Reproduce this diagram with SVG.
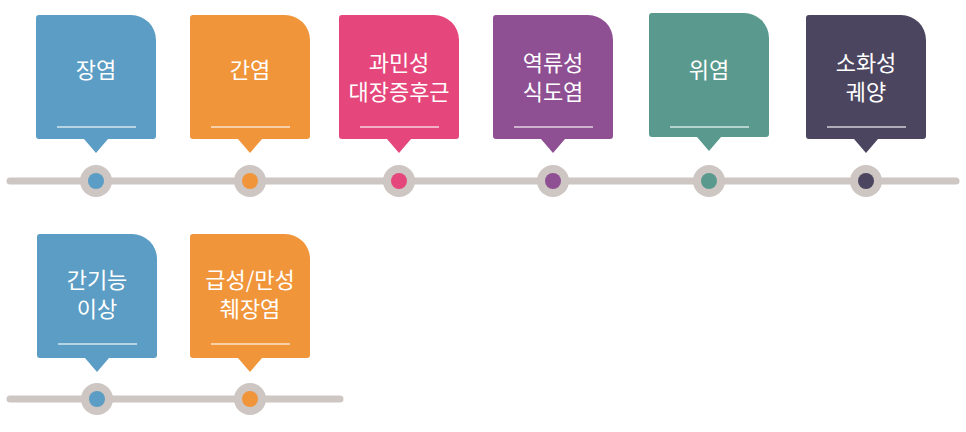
<svg xmlns="http://www.w3.org/2000/svg" width="966" height="432" viewBox="0 0 966 432">
<defs>
<style>
.t{font-family:"Noto Sans CJK KR","Noto Sans",sans-serif;font-size:22px;fill:#fff;text-anchor:middle}
.ul{stroke:#fff;stroke-opacity:.75;stroke-width:1.5}
.rail{stroke:#cdc6c2;stroke-width:7;stroke-linecap:round}
.ring{fill:#cdc6c2}
</style>
<path id="b" d="M-57,0 H35 A25,25 0 0 1 60,25 V121 A3,3 0 0 1 57,124 H12 L0,138 L-12,124 H-57 A3,3 0 0 1 -60,121 V3 A3,3 0 0 1 -57,0 Z"/>
</defs>
<g id="connectors">
<line class="rail" x1="10" y1="181" x2="956" y2="181"/>
<line class="rail" x1="10" y1="399" x2="340" y2="399"/>
</g>
<g id="n1" transform="translate(96,15)"><use href="#b" fill="#5b9dc4"/><text class="t" x="0" y="63">장염</text><line class="ul" x1="-39" y1="112" x2="40" y2="112"/><circle class="ring" cx="0" cy="166" r="16"/><circle cx="0" cy="166" r="8" fill="#5b9dc4"/></g>
<g id="n2" transform="translate(250,15)"><use href="#b" fill="#f0953a"/><text class="t" x="0" y="63">간염</text><line class="ul" x1="-39" y1="112" x2="40" y2="112"/><circle class="ring" cx="0" cy="166" r="16"/><circle cx="0" cy="166" r="8" fill="#f0953a"/></g>
<g id="n3" transform="translate(399,15)"><use href="#b" fill="#e5477c"/><text class="t" x="0" y="56">과민성</text><text class="t" x="0" y="85">대장증후근</text><line class="ul" x1="-39" y1="112" x2="40" y2="112"/><circle class="ring" cx="0" cy="166" r="16"/><circle cx="0" cy="166" r="8" fill="#e5477c"/></g>
<g id="n4" transform="translate(553,15)"><use href="#b" fill="#8e4f93"/><text class="t" x="0" y="56">역류성</text><text class="t" x="0" y="85">식도염</text><line class="ul" x1="-39" y1="112" x2="40" y2="112"/><circle class="ring" cx="0" cy="166" r="16"/><circle cx="0" cy="166" r="8" fill="#8e4f93"/></g>
<g id="n5" transform="translate(709,13)"><use href="#b" fill="#5a9a8e"/><text class="t" x="0" y="65">위염</text><line class="ul" x1="-39" y1="114" x2="40" y2="114"/><circle class="ring" cx="0" cy="168" r="16"/><circle cx="0" cy="168" r="8" fill="#5a9a8e"/></g>
<g id="n6" transform="translate(866,15)"><use href="#b" fill="#4b4560"/><text class="t" x="0" y="56">소화성</text><text class="t" x="0" y="85">궤양</text><line class="ul" x1="-39" y1="112" x2="40" y2="112"/><circle class="ring" cx="0" cy="166" r="16"/><circle cx="0" cy="166" r="8" fill="#4b4560"/></g>
<g id="n7" transform="translate(97,234)"><use href="#b" fill="#5b9dc4"/><text class="t" x="0" y="54">간기능</text><text class="t" x="0" y="83">이상</text><line class="ul" x1="-39" y1="110" x2="40" y2="110"/><circle class="ring" cx="0" cy="165" r="16"/><circle cx="0" cy="165" r="8" fill="#5b9dc4"/></g>
<g id="n8" transform="translate(250,234)"><use href="#b" fill="#f0953a"/><text class="t" x="0" y="54">급성/만성</text><text class="t" x="0" y="83">췌장염</text><line class="ul" x1="-39" y1="110" x2="40" y2="110"/><circle class="ring" cx="0" cy="165" r="16"/><circle cx="0" cy="165" r="8" fill="#f0953a"/></g>
</svg>
